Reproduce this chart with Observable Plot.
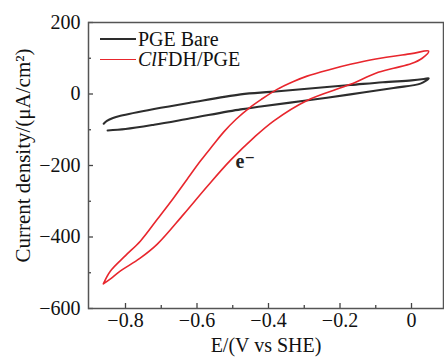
<!DOCTYPE html>
<html><head><meta charset="utf-8">
<script src="https://cdn.jsdelivr.net/npm/d3@7"></script>
<script src="https://cdn.jsdelivr.net/npm/@observablehq/plot@0.6"></script>
<style>
body{margin:0;background:#fff;}
#wrap{position:relative;width:444px;height:357px;overflow:hidden;}
.legend{position:absolute;left:100px;top:29px;font-family:"Liberation Serif",Tinos,"Times New Roman","DejaVu Serif",serif;font-size:20px;color:#111;}
.legend .row{display:flex;align-items:center;height:20px;white-space:nowrap;}
.legend .sw{display:inline-block;width:36px;height:0;margin-right:2px;}
.legend .lt{display:inline-block;height:20px;line-height:20px;overflow:visible;}
</style></head><body><div id="wrap"></div>
<script>
// PGE Bare cyclic voltammogram (open loop, ordered along the scan)
const bareE = [-0.861,-0.852,-0.835,-0.814,-0.72,-0.618,-0.478,-0.394,-0.3,-0.171,-0.08,0.0,0.035,0.048,
               0.025,-0.05,-0.171,-0.3,-0.422,-0.478,-0.618,-0.72,-0.80,-0.850];
const bareJ = [-83,-75,-67,-61,-42,-24,-1,6,14,25,33,38,42,44,
               29,17,-1,-19,-35,-43,-68,-86,-98,-102];
// ClFDH/PGE cyclic voltammogram
const fdhE = [-0.862,-0.842,-0.80,-0.758,-0.71,-0.665,-0.628,-0.590,-0.555,-0.525,-0.49,-0.455,-0.42,-0.376,-0.33,-0.292,-0.23,-0.171,-0.1,0.0,0.048,
              0.03,0.0,-0.05,-0.1,-0.171,-0.292,-0.385,-0.441,-0.506,-0.571,-0.637,-0.711,-0.76,-0.814,-0.842,-0.862];
const fdhJ = [-531,-495,-452,-411,-349,-290,-239,-187,-143,-106,-70,-40,-15,13,35,50,68,83,98,113,120,
              100,85,72,58,27,-18,-75,-122,-185,-258,-336,-420,-460,-495,-517,-531];

// annotation (electron) placed in data space
const annotE = [-0.465];
const annotJ = [-188];
const annotText = ["e\u207B"];

const seriesNames = ["PGE Bare","ClFDH/PGE"];
const seriesColors = ["#2d2d2d","#e8262d"];
const xTicks = [-0.8,-0.6,-0.4,-0.2,0];
const xMinor = [-0.7,-0.5,-0.3,-0.1];
const yTicks = [200,0,-200,-400,-600];
const yMinor = [100,-100,-300,-500];

const rows = [
  ...bareE.map((e,i)=>({E:e, J:bareJ[i], s:seriesNames[0]})),
  ...fdhE.map((e,i)=>({E:e, J:fdhJ[i], s:seriesNames[1]}))
];
const annots = annotE.map((e,i)=>({E:e, J:annotJ[i], t:annotText[i]}));

const FONT = '"Liberation Serif",Tinos,"Times New Roman","DejaVu Serif",serif';
const W=444, H=357, mL=88, mT=22, mR=1, mB=49;
const fw = W-mL-mR, fh = H-mT-mB;
const tickCol = "#444";
const fmt = d => d === 0 ? "0" : (d < 0 ? "\u2212" : "") + Math.abs(d).toFixed(1);

const chart = Plot.plot({
  width: W, height: H,
  marginLeft: mL, marginTop: mT, marginRight: mR, marginBottom: mB,
  style: {fontFamily: FONT, fontSize: "20px", color: "#111", background: "#fff", overflow: "visible"},
  x: {domain: [-0.9035, 0.0895], ticks: xTicks, tickFormat: fmt, tickSize: 0, tickPadding: 4, label: null},
  y: {domain: [-600, 200], ticks: yTicks, tickSize: 0, tickPadding: 8, label: null},
  color: {domain: seriesNames, range: seriesColors},
  marks: [
    Plot.ruleX(xTicks, {x: d=>d, insetTop: fh-5, stroke: tickCol, strokeWidth: 1.3}),
    Plot.ruleX(xMinor, {x: d=>d, insetTop: fh-3, stroke: tickCol, strokeWidth: 1.3}),
    Plot.ruleY(yTicks, {y: d=>d, insetRight: fw-5, stroke: tickCol, strokeWidth: 1.3}),
    Plot.ruleY(yMinor, {y: d=>d, insetRight: fw-3, stroke: tickCol, strokeWidth: 1.3}),
    Plot.line(rows, {x: "E", y: "J", z: "s", stroke: "s", strokeWidth: 1.8, curve: "catmull-rom"}),
    Plot.text(annots, {x: "E", y: "J", text: "t", fontSize: 20, fontWeight: "bold", fill: "#222", textAnchor: "middle", lineAnchor: "middle", ariaLabel: "electron"}),
    Plot.frame({stroke: "#555", strokeWidth: 1.5}),
    Plot.text(["E/(V vs SHE)"], {frameAnchor: "bottom", dy: 37, textAnchor: "middle", lineAnchor: "middle", fontSize: 20, fill: "#111", ariaLabel: "xlabel"}),
    Plot.text(["Current density/(μA/cm²)"], {frameAnchor: "left", rotate: -90, dx: -65, dy: -10, textAnchor: "middle", lineAnchor: "middle", fontSize: 21, fill: "#111", ariaLabel: "ylabel"})
  ]
});

// rich text for the x label (italic E and vs)
const xl = d3.select(chart).select('g[aria-label="xlabel"] text');
xl.text(null);
xl.append("tspan").attr("font-style","italic").text("E");
xl.append("tspan").text("/(V ");
xl.append("tspan").attr("font-style","italic").text("vs");
xl.append("tspan").text(" SHE)");

// stroke widths per series
d3.select(chart).selectAll('g[aria-label="line"] path').each(function(){
  const s = this.getAttribute("stroke");
  this.setAttribute("stroke-width", s === seriesColors[0] ? 2.1 : 1.6);
});

const wrap = document.getElementById("wrap");
wrap.appendChild(chart);

// legend overlay inside the frame
const leg = document.createElement("div");
leg.className = "legend";
seriesNames.forEach((name,i)=>{
  const r = document.createElement("div"); r.className = "row";
  const sw = document.createElement("span"); sw.className = "sw";
  sw.style.borderTop = (i===0?2.1:1.8) + "px solid " + seriesColors[i];
  r.appendChild(sw);
  const t = document.createElement("span"); t.className = "lt";
  if (name.startsWith("Cl")) {
    const it = document.createElement("i"); it.textContent = "Cl";
    t.appendChild(it); t.appendChild(document.createTextNode(name.slice(2)));
  } else t.textContent = name;
  r.appendChild(t);
  leg.appendChild(r);
});
wrap.appendChild(leg);
</script></body></html>
